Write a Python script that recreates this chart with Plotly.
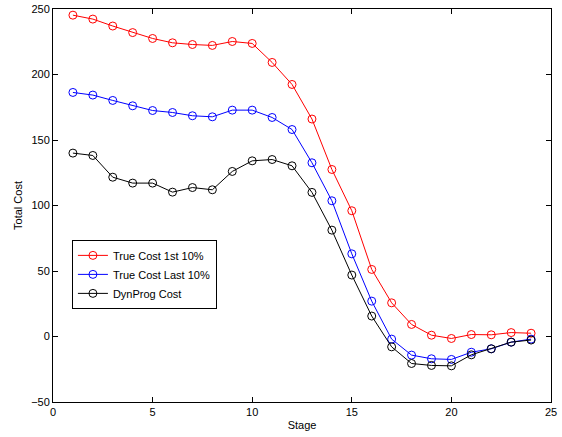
import plotly.graph_objects as go

stages = list(range(1, 25))
true_cost_first = [245.3, 242.3, 237.0, 232.0, 227.5, 224.2, 222.9, 222.2, 225.2, 223.7,
                   209.2, 192.4, 166.0, 127.5, 96.0, 51.2, 25.7, 9.2, 1.0, -1.5,
                   1.5, 1.3, 3.0, 2.5]
true_cost_last = [186.3, 184.3, 180.2, 176.1, 172.5, 171.0, 168.5, 167.7, 172.8, 172.8,
                  167.2, 158.0, 132.6, 103.6, 63.1, 27.0, -2.0, -14.2, -17.0, -17.5,
                  -12.0, -9.4, -4.3, -2.0]
dynprog_cost = [140.0, 138.2, 121.6, 117.1, 117.1, 110.2, 113.7, 112.0, 126.0, 134.1,
                135.1, 130.3, 110.0, 81.2, 46.9, 15.6, -7.9, -20.6, -22.1, -22.4,
                -14.0, -9.4, -4.3, -2.7]

series = [
    ("True Cost 1st 10%", true_cost_first, "#ff0000"),
    ("True Cost Last 10%", true_cost_last, "#0000ff"),
    ("DynProg Cost", dynprog_cost, "#000000"),
]

fig = go.Figure()
for name, vals, col in series:
    fig.add_trace(go.Scatter(
        x=stages, y=vals, name=name, mode="lines+markers",
        line=dict(color=col, width=1),
        marker=dict(symbol="circle-open", size=8, color=col, line=dict(width=1, color=col)),
    ))

axis_common = dict(
    showline=True, linecolor="black", linewidth=1, mirror="ticks",
    ticks="inside", ticklen=5, tickcolor="black", showgrid=False, zeroline=False,
    automargin=False,
    tickfont=dict(family="Liberation Sans, Arial, sans-serif", size=11, color="black"),
)

fig.update_layout(
    width=562, height=437,
    paper_bgcolor="white", plot_bgcolor="white",
    margin=dict(l=53, r=11, t=9, b=35),
    font=dict(family="Liberation Sans, Arial, sans-serif", size=11, color="black"),
    xaxis=dict(range=[0, 25], dtick=5, tick0=0,
               title=dict(text="Stage", standoff=4, font=dict(size=11)), **axis_common),
    yaxis=dict(range=[-50, 250], dtick=50, tick0=0,
               title=dict(text="Total Cost", standoff=6, font=dict(size=11)), **axis_common),
    legend=dict(x=0.038, y=0.4125, xanchor="left", yanchor="top",
                bordercolor="black", borderwidth=1, bgcolor="white",
                font=dict(size=11), tracegroupgap=0, itemwidth=30),
    showlegend=True,
)

fig.write_html("out.html")
